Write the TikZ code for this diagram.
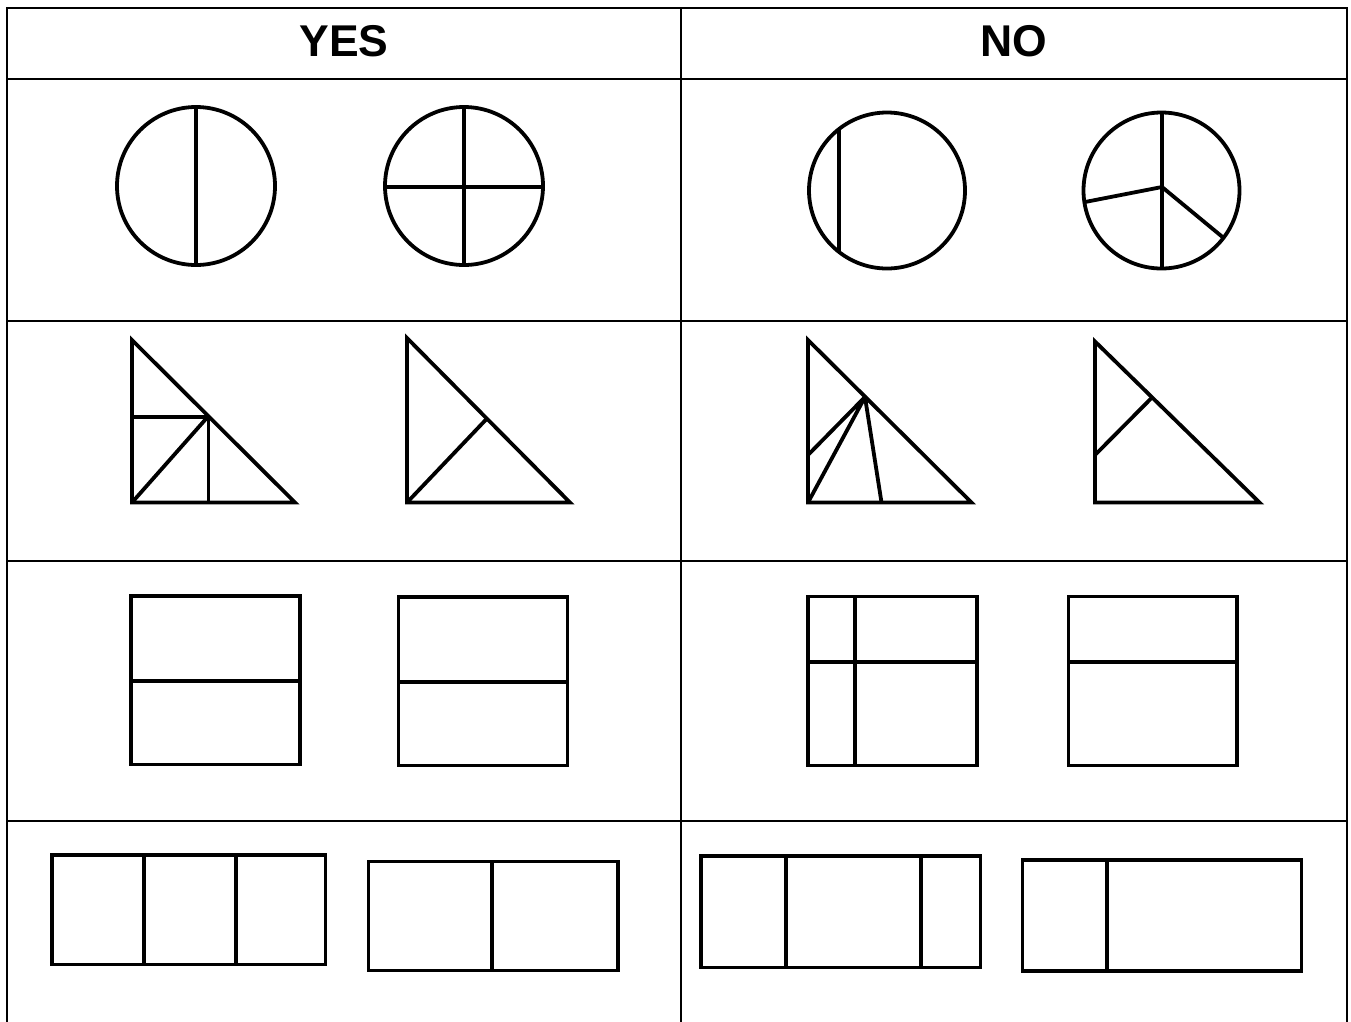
\documentclass[tikz,border=0pt]{standalone}
\usepackage{fontspec}
\setmainfont{Liberation Sans}
\begin{document}
\begin{tikzpicture}[x=1pt,y=-1pt,
  gridline/.style={line width=2.6pt,line cap=rect},
  figline/.style={line width=3.8pt},
  spoke/.style={figline,line join=round},
  head/.style={font=\fontsize{44.5}{50}\selectfont\bfseries,inner sep=0pt,anchor=center}]
\useasboundingbox[fill=white] (0,0) rectangle (1351,1021);
% table grid
\draw[gridline] (7,1025) -- (7,8) -- (1347,8) -- (1347,1025);
\draw[gridline] (681,8) -- (681,1025);
\draw[gridline] (7,79) -- (1347,79);
\draw[gridline] (7,321) -- (1347,321);
\draw[gridline] (7,561) -- (1347,561);
\draw[gridline] (7,821) -- (1347,821);
% headers
\node[head] (yes) at (344,41.5) {YES};
\node[head] (no) at (1014,41.5) {NO};
% row 1: circles
\draw[figline] (196,186) circle[radius=79];
\draw[figline] (196,107) -- (196,265);
\draw[figline] (464,186) circle[radius=79];
\draw[figline] (464,107) -- (464,265);
\draw[figline] (385,187) -- (543,187);
\draw[figline] (887,190.5) circle[radius=78];
\draw[figline] (839,129) -- (839,252);
\draw[figline] (1161.5,190.5) circle[radius=78];
\draw[figline] (1162,112.5) -- (1162,268.5);
\draw[spoke] (1085,202) -- (1162,187) -- (1222.5,237);
% row 2: triangles
\draw[figline] (132,340) -- (132,502.5) -- (295,502.5) -- cycle;
\draw[figline] (132,417) -- (209,417);
\draw[figline] (208.5,416) -- (208.5,502.5);
\draw[figline] (132,502.5) -- (208.5,416);
\draw[figline] (407,338) -- (407,502.5) -- (570,502.5) -- cycle;
\draw[figline] (407,502.5) -- (487,418.5);
\draw[figline] (808,340) -- (808,502.5) -- (971.5,502.5) -- cycle;
\draw[spoke] (808,455) -- (865,397) -- (808,502.5);
\draw[spoke] (865,397) -- (881.5,502.5);
\draw[figline] (1095,341.5) -- (1095,502.5) -- (1259.5,502.5) -- cycle;
\draw[figline] (1095,455) -- (1152,397.5);
% row 3: squares
\draw[figline] (131,596) rectangle (300,764.5);
\draw[figline] (131,681) -- (300,681);
\draw[figline] (398.5,597) rectangle (567.5,765.5);
\draw[figline] (398.5,682) -- (567.5,682);
\draw[figline] (808,596.5) rectangle (977,765.5);
\draw[figline] (808,662) -- (977,662);
\draw[figline] (855,596.5) -- (855,765.5);
\draw[figline] (1068.5,596.5) rectangle (1237,765.5);
\draw[figline] (1068.5,662) -- (1237,662);
% row 4: rectangles
\draw[figline] (52,855) rectangle (325.5,964.5);
\draw[figline] (144,855) -- (144,964.5);
\draw[figline] (236,855) -- (236,964.5);
\draw[figline] (368.5,861.5) rectangle (618,970.5);
\draw[figline] (492,861.5) -- (492,970.5);
\draw[figline] (701,856) rectangle (980.5,967.5);
\draw[figline] (786,856) -- (786,967.5);
\draw[figline] (921,856) -- (921,967.5);
\draw[figline] (1022.5,860) rectangle (1301.5,971);
\draw[figline] (1107,860) -- (1107,971);
\end{tikzpicture}
\end{document}
